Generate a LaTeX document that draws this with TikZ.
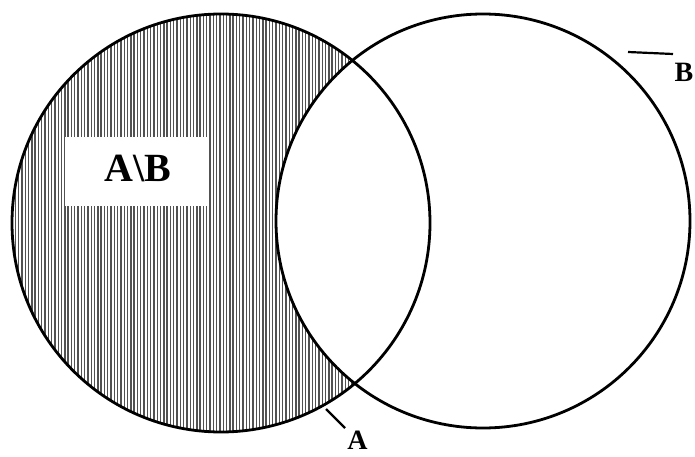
\documentclass[tikz,border=0pt]{standalone}
\usepackage{fontspec}
\setmainfont{Liberation Serif}
\begin{document}
\begin{tikzpicture}[x=1pt,y=-1pt,
  outline/.style={draw=black,line width=2.8pt},
  hatchline/.style={draw=black!68,line width=1.4pt},
  lbl/.style={font=\bfseries\fontsize{28}{28}\selectfont,inner sep=0pt,anchor=center},
  tick/.style={draw=black,line width=2.2pt}]
\useasboundingbox (0,0) rectangle (695,457);
\fill[white] (0,0) rectangle (695,457);
\coordinate (ca) at (221,223);
\coordinate (cb) at (483,221);
% hatching of A minus B
\begin{scope}
  \clip (ca) circle[radius=209];
  \foreach \i in {0,...,130} {
    \draw[hatchline] ({12+3.3*\i},0) -- ({12+3.3*\i},457);
  }
  \fill[white] (cb) circle[radius=207];
\end{scope}
% white label box
\node[fill=white,minimum width=143pt,minimum height=69pt,inner sep=0pt] (box) at (136.5,171.5) {};
\node[font=\bfseries\fontsize{40}{40}\selectfont,inner sep=0pt] (ab) at (137.5,168) {A\textbackslash B};
% circles
\draw[outline] (ca) circle[radius=209];
\draw[outline] (cb) circle[radius=207];
% labels
\node[lbl] (la) at (357.5,440) {A};
\node[lbl] (lb) at (684,72) {B};
\coordinate (ta1) at (326,409);
\coordinate (ta2) at (345,428);
\coordinate (tb1) at (628,52);
\coordinate (tb2) at (673,54);
\draw[tick] (ta1) -- (ta2);
\draw[tick] (tb1) -- (tb2);
\end{tikzpicture}
\end{document}
